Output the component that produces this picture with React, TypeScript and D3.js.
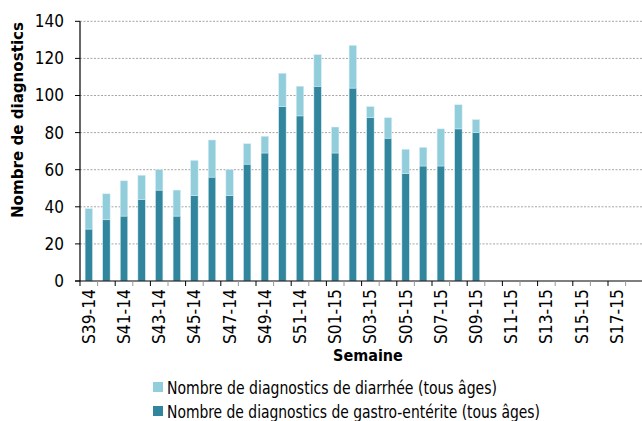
import React from "react";
import * as d3 from "d3";

const weeks: string[] = [
  "S39-14","S40-14","S41-14","S42-14","S43-14","S44-14","S45-14","S46-14","S47-14","S48-14","S49-14","S50-14","S51-14","S52-14",
  "S01-15","S02-15","S03-15","S04-15","S05-15","S06-15","S07-15","S08-15","S09-15","S10-15","S11-15","S12-15","S13-15","S14-15","S15-15","S16-15","S17-15","S18-15",
];
const gastro: number[] = [28,33,35,44,49,35,46,56,46,63,69,94,89,105,69,104,88,77,58,62,62,82,80];
const diarrheeTotal: number[] = [39,47,54,57,60,49,65,76,60,74,78,112,105,122,83,127,94,88,71,72,82,95,87];
const yTicks: number[] = [0,20,40,60,80,100,120,140];
const seriesNames: string[] = [
  "Nombre de diagnostics de diarrhée (tous âges)",
  "Nombre de diagnostics de gastro-entérite (tous âges)",
];
const colors = ["#92cddc", "#31859c"];

const W = 642, H = 421;
const left = 80, right = 643.2, top = 21.3, bottom = 281;
const condensed = "'Liberation Sans Narrow', 'DejaVu Sans Condensed', 'Roboto', sans-serif";
const legendLens = [330, 373];

export default function App() {
  const x = d3.scaleBand<string>().domain(weeks).range([left, right]).padding(0);
  const y = d3.scaleLinear().domain([0, 140]).range([bottom, top]);
  const bw = x.bandwidth() * 0.42;
  const data = gastro.map((g, i) => ({ week: weeks[i], g, d: diarrheeTotal[i] - g }));
  const stack = d3.stack<any>().keys(["g", "d"])(data);

  return (
    <svg width={W} height={H} style={{ position: "absolute", left: 0, top: 0, display: "block", background: "#fff" }}>
      {yTicks.filter(t => t > 0).map(t => (
        <line key={"g" + t} x1={left} x2={W} y1={y(t)} y2={y(t)} stroke="#a6a6a6" strokeWidth={1} strokeDasharray="2,1.5" />
      ))}
      {stack.map((s, si) => (
        <g key={si} fill={si === 0 ? colors[1] : colors[0]}>
          {s.map((p, i) => (
            <rect key={i} x={(x(data[i].week) as number) + (x.bandwidth() - bw) / 2} y={y(p[1])}
              width={bw} height={Math.max(0, y(p[0]) - y(p[1]))} stroke="#d4ecf3" strokeWidth={0.5} />
          ))}
        </g>
      ))}
      <line x1={left} x2={left} y1={top} y2={bottom} stroke="#000" strokeWidth={1.2} />
      {yTicks.map(t => (
        <g key={"y" + t}>
          <line x1={left - 5} x2={left} y1={y(t)} y2={y(t)} stroke="#000" />
          <text x={left - 16} y={y(t)} dy="0.35em" textAnchor="end" fontSize={17} fontFamily={condensed} fill="#000">{t}</text>
        </g>
      ))}
      <line x1={left - 5} x2={W} y1={bottom} y2={bottom} stroke="#000" strokeWidth={1.2} />
      {weeks.map((w, i) => (
        <line key={"xt" + i} x1={x(w) as number} x2={x(w) as number} y1={bottom} y2={bottom + 5} stroke={i % 2 === 0 ? "#000" : "#999"} />
      ))}
      {weeks.map((w, i) => i % 2 === 0 ? (
        <text key={"xl" + i} transform={`translate(${(x(w) as number) + x.bandwidth() / 2 + 6},${bottom + 8}) rotate(-90)`}
          textAnchor="end" fontSize={17} fontFamily={condensed} fill="#000" textLength={55} lengthAdjust="spacingAndGlyphs">{w}</text>
      ) : null)}
      <text transform={`translate(23,120) rotate(-90)`} textAnchor="middle" fontSize={16}
        fontWeight="bold" fontFamily={condensed} fill="#000" textLength={196} lengthAdjust="spacingAndGlyphs">Nombre de diagnostics</text>
      <text x={368} y={361} textAnchor="middle" fontSize={16} fontWeight="bold" fontFamily={condensed} fill="#000">Semaine</text>
      {seriesNames.map((n, i) => (
        <g key={"lg" + i} transform={`translate(153,${382 + i * 24})`}>
          <rect x={0} y={0} width={10} height={10} fill={colors[i]} />
          <text x={14} y={11.5} fontSize={17} fontFamily={condensed} fill="#000" textLength={legendLens[i]} lengthAdjust="spacingAndGlyphs">{n}</text>
        </g>
      ))}
    </svg>
  );
}
